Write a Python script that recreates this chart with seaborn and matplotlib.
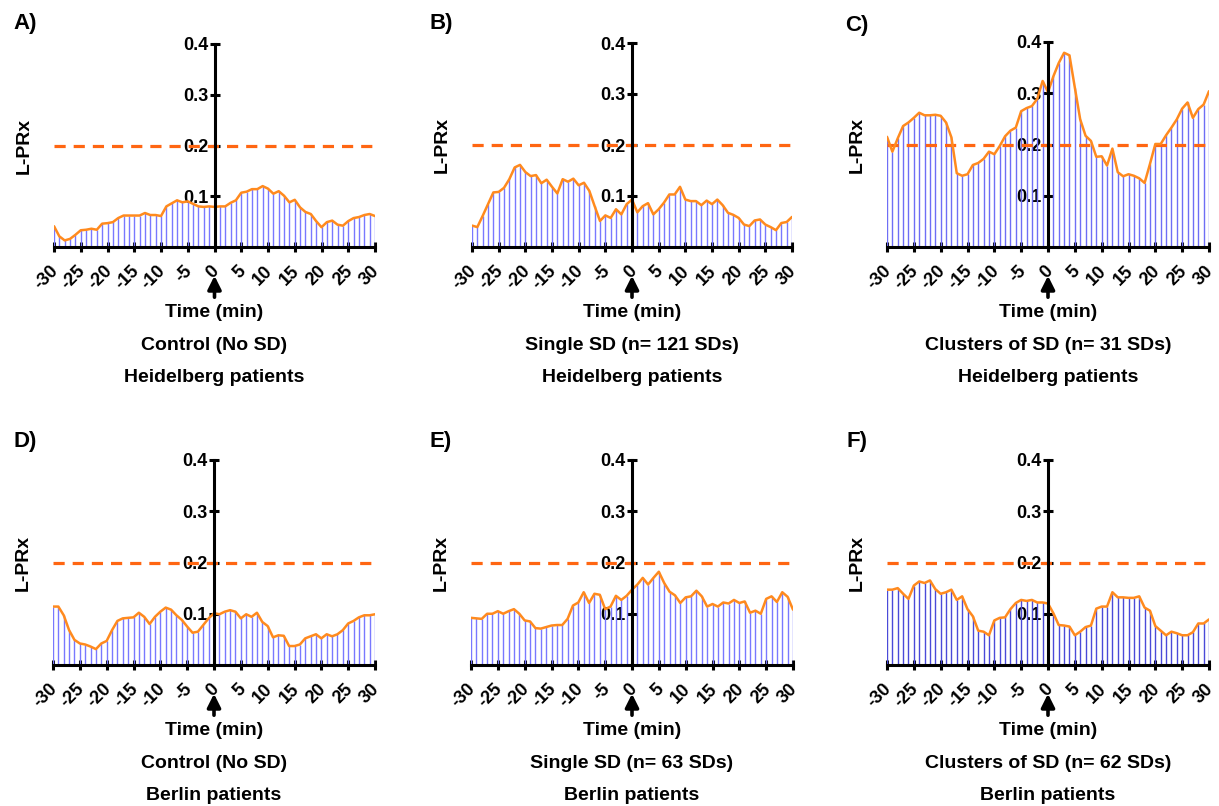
import numpy as np
import pandas as pd
import seaborn as sns
import matplotlib.pyplot as plt
from matplotlib.transforms import ScaledTranslation

minutes = list(range(-30, 31))

# L-PRx values, one per minute from -30 to 30
a_control_hd = [0.041, 0.021, 0.013, 0.016, 0.024, 0.033, 0.034, 0.036, 0.034, 0.046,
                0.047, 0.049, 0.057, 0.062, 0.062, 0.062, 0.062, 0.067, 0.063, 0.063,
                0.061, 0.080, 0.086, 0.092, 0.088, 0.090, 0.085, 0.080, 0.079, 0.080,
                0.079, 0.080, 0.080, 0.087, 0.092, 0.107, 0.109, 0.114, 0.114, 0.120,
                0.115, 0.105, 0.110, 0.101, 0.088, 0.093, 0.078, 0.069, 0.065, 0.051,
                0.039, 0.049, 0.052, 0.044, 0.042, 0.051, 0.057, 0.059, 0.063, 0.065,
                0.061]
b_single_hd = [0.042, 0.039, 0.061, 0.084, 0.107, 0.108, 0.116, 0.133, 0.156, 0.161,
               0.147, 0.139, 0.141, 0.125, 0.132, 0.118, 0.105, 0.133, 0.128, 0.134,
               0.121, 0.126, 0.110, 0.080, 0.051, 0.062, 0.057, 0.074, 0.064, 0.084,
               0.093, 0.068, 0.080, 0.086, 0.064, 0.074, 0.087, 0.103, 0.103, 0.118,
               0.093, 0.090, 0.090, 0.082, 0.091, 0.084, 0.093, 0.082, 0.067, 0.063,
               0.057, 0.044, 0.041, 0.052, 0.054, 0.044, 0.039, 0.033, 0.047, 0.049,
               0.059]
c_cluster_hd = [0.215, 0.186, 0.212, 0.236, 0.243, 0.252, 0.262, 0.257, 0.257, 0.258,
                0.256, 0.243, 0.214, 0.144, 0.139, 0.142, 0.160, 0.164, 0.172, 0.186,
                0.181, 0.197, 0.216, 0.227, 0.233, 0.265, 0.271, 0.275, 0.289, 0.324,
                0.302, 0.333, 0.359, 0.379, 0.374, 0.311, 0.249, 0.217, 0.207, 0.176,
                0.177, 0.159, 0.192, 0.146, 0.138, 0.142, 0.139, 0.134, 0.125, 0.162,
                0.201, 0.201, 0.218, 0.233, 0.249, 0.270, 0.282, 0.252, 0.269, 0.278,
                0.304]
d_control_be = [0.114, 0.114, 0.097, 0.068, 0.049, 0.042, 0.040, 0.036, 0.031, 0.042,
                0.047, 0.068, 0.086, 0.091, 0.092, 0.093, 0.102, 0.094, 0.080, 0.094,
                0.104, 0.112, 0.108, 0.097, 0.088, 0.075, 0.063, 0.065, 0.078, 0.091,
                0.101, 0.099, 0.104, 0.107, 0.104, 0.091, 0.099, 0.094, 0.102, 0.084,
                0.076, 0.054, 0.058, 0.057, 0.037, 0.037, 0.040, 0.052, 0.056, 0.060,
                0.052, 0.060, 0.056, 0.060, 0.068, 0.081, 0.086, 0.093, 0.097, 0.097,
                0.099]
e_single_be = [0.092, 0.091, 0.090, 0.100, 0.100, 0.105, 0.100, 0.105, 0.109, 0.100,
               0.087, 0.085, 0.072, 0.071, 0.074, 0.077, 0.078, 0.078, 0.090, 0.116,
               0.122, 0.142, 0.121, 0.139, 0.137, 0.109, 0.114, 0.135, 0.127, 0.135,
               0.147, 0.157, 0.170, 0.157, 0.170, 0.182, 0.160, 0.143, 0.136, 0.121,
               0.132, 0.134, 0.145, 0.134, 0.114, 0.119, 0.114, 0.122, 0.120, 0.127,
               0.121, 0.124, 0.102, 0.106, 0.100, 0.129, 0.134, 0.123, 0.142, 0.133,
               0.108]
f_cluster_be = [0.147, 0.147, 0.150, 0.139, 0.129, 0.155, 0.163, 0.160, 0.165, 0.148,
                0.139, 0.142, 0.147, 0.127, 0.134, 0.109, 0.095, 0.067, 0.065, 0.058,
                0.087, 0.092, 0.093, 0.109, 0.121, 0.127, 0.125, 0.127, 0.122, 0.122,
                0.120, 0.101, 0.078, 0.077, 0.075, 0.058, 0.065, 0.074, 0.077, 0.110,
                0.114, 0.114, 0.142, 0.132, 0.132, 0.131, 0.131, 0.134, 0.112, 0.106,
                0.076, 0.067, 0.058, 0.065, 0.062, 0.058, 0.058, 0.064, 0.081, 0.081,
                0.089]

panel_letters = ['A)', 'B)', 'C)', 'D)', 'E)', 'F)']
groups = ['Control (No SD)', 'Single SD (n= 121 SDs)', 'Clusters of SD (n= 31 SDs)',
          'Control (No SD)', 'Single SD (n= 63 SDs)', 'Clusters of SD (n= 62 SDs)']
centres = ['Heidelberg patients'] * 3 + ['Berlin patients'] * 3
series = [a_control_hd, b_single_hd, c_cluster_hd, d_control_be, e_single_be, f_cluster_be]
threshold = 0.2

xticks = list(range(-30, 31, 5))
yticks = [0.1, 0.2, 0.3, 0.4]

sns.set_style('ticks')
plt.rcParams['font.family'] = ['Liberation Sans', 'DejaVu Sans']
plt.rcParams['font.weight'] = 'bold'
plt.rcParams['text.color'] = 'black'
plt.rcParams['xtick.color'] = 'black'
plt.rcParams['ytick.color'] = 'black'
plt.rcParams['xtick.labelcolor'] = 'black'
plt.rcParams['ytick.labelcolor'] = 'black'

W, H = 1219, 806
fig = plt.figure(figsize=(W / 100, H / 100), dpi=100)

# pixel boxes: x at -30, x at 30, y at 0.4, y at 0
boxes = [(54, 375, 44, 247), (472, 792, 43, 247), (887, 1209, 42, 247),
         (53, 375, 460, 665), (471, 793, 460, 665), (887, 1209, 460, 665)]
letter_pos = [(25, 23), (441, 23), (857, 25), (25, 441), (441, 441), (857, 441)]
bar_colors = ['#7878ff', '#7878ff', '#6e6ef5', '#7878ff', '#7878ff', '#4a4ad8']

for i, (x0, x1, yt, yb) in enumerate(boxes):
    ax = fig.add_axes([x0 / W, 1 - yb / H, (x1 - x0) / W, (yb - yt) / H])
    hpx = yb - yt
    df = pd.DataFrame({'Time': minutes, 'LPRx': series[i]})
    ax.vlines(df['Time'], 0, df['LPRx'], color=bar_colors[i], lw=1.0, zorder=1)
    sns.lineplot(data=df, x='Time', y='LPRx', ax=ax, color='#ff8a1e', lw=1.8, zorder=3)
    ax.axhline(threshold, color='#ff6612', lw=2.3, dashes=(3.5, 2.5), zorder=2)

    ax.set_xlim(-30, 30)
    ax.set_ylim(0, 0.4)
    ax.spines['left'].set_position(('data', 0))
    ax.spines['left'].set_zorder(4)
    for s in ['left', 'bottom']:
        ax.spines[s].set_linewidth(2.2)
        ax.spines[s].set_color('black')
    for s in ['top', 'right']:
        ax.spines[s].set_visible(False)

    ax.set_xticks(xticks)
    ax.set_xticklabels([str(t) for t in xticks])
    ax.set_yticks(yticks)
    ax.set_yticklabels(['0.1', '0.2', '0.3', '0.4'])
    ax.tick_params(axis='both', direction='inout', length=7, width=2.2, colors='black',
                   labelsize=13)
    ax.tick_params(axis='x', pad=12)
    ax.tick_params(axis='y', pad=1)
    shift = ScaledTranslation(2 / 100, 0, fig.dpi_scale_trans)
    for lab in ax.get_xticklabels():
        lab.set_rotation(45)
        lab.set_rotation_mode('anchor')
        lab.set_ha('right')
        lab.set_va('center')
        lab.set_fontweight('bold')
        lab.set_transform(lab.get_transform() + shift)
    for lab in ax.get_yticklabels():
        lab.set_fontweight('bold')
    ax.set_xlabel('')
    ax.set_ylabel('')

    ax.text(-30 / (x1 - x0), 0.5, 'L-PRx', transform=ax.transAxes, rotation=90,
            ha='center', va='center', fontsize=14, fontweight='bold')

    ax.annotate('', xy=(0, -26 / hpx), xytext=(0, -53 / hpx),
                xycoords=('data', 'axes fraction'), textcoords=('data', 'axes fraction'),
                arrowprops=dict(arrowstyle='-|>', color='black', lw=2.6, mutation_scale=20),
                annotation_clip=False)
    for txt, off in [('Time (min)', 65.5), (groups[i], 99), (centres[i], 130)]:
        ax.text(0, -off / hpx, txt, transform=ax.get_xaxis_transform(), ha='center',
                va='center', fontsize=14, fontweight='bold')

    lx, ly = letter_pos[i]
    fig.text(lx / W, 1 - ly / H, panel_letters[i], ha='center', va='center',
             fontsize=16, fontweight='bold')

fig.savefig('out.png', dpi=100)
